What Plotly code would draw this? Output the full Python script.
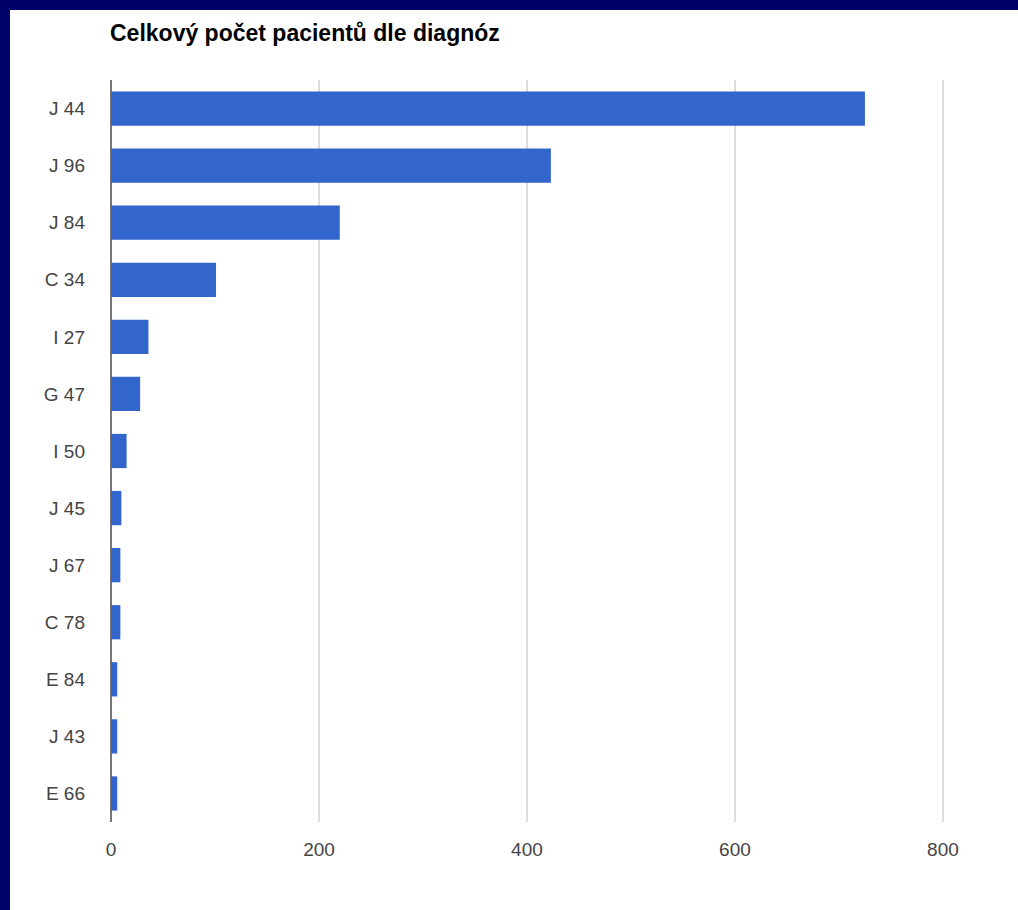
import plotly.graph_objects as go

categories = ["J 44", "J 96", "J 84", "C 34", "I 27", "G 47", "I 50", "J 45", "J 67", "C 78", "E 84", "J 43", "E 66"]
values = [725, 423, 220, 101, 36, 28, 15, 10, 9, 9, 6, 6, 6]
x_ticks = [0, 200, 400, 600, 800]
title_text = "Celkový počet pacientů dle diagnóz"

W, H = 1018, 910
L, R, T, B = 111, 73, 80, 88
pw, ph = W - L - R, H - T - B

fig = go.Figure(go.Bar(
    x=values, y=categories, orientation="h",
    marker=dict(color="#3366CC", line=dict(width=0)),
    hoverinfo="x+y",
))

def px_to_paper_x(p):
    return (p - L) / pw

def py_to_paper_y(p):
    return 1 - (p - T) / ph

navy = "#00006a"
shapes = [
    dict(type="rect", xref="paper", yref="paper",
         x0=px_to_paper_x(0), x1=px_to_paper_x(W), y0=py_to_paper_y(10), y1=py_to_paper_y(0),
         fillcolor=navy, line=dict(width=0), layer="above"),
    dict(type="rect", xref="paper", yref="paper",
         x0=px_to_paper_x(0), x1=px_to_paper_x(10), y0=py_to_paper_y(H), y1=py_to_paper_y(0),
         fillcolor=navy, line=dict(width=0), layer="above"),
]

fig.update_layout(
    width=W, height=H,
    margin=dict(l=L, r=R, t=T, b=B),
    paper_bgcolor="white", plot_bgcolor="white",
    font=dict(family="Arial, Liberation Sans, sans-serif", size=19, color="#444444"),
    title=dict(text="<b>" + title_text + "</b>", x=110 / W,
               xref="container", xanchor="left", y=1 - 33 / H, yanchor="middle",
               font=dict(size=23, color="#000000")),
    bargap=0.4,
    showlegend=False,
    shapes=shapes,
    xaxis=dict(range=[0, 802], tickvals=x_ticks, ticktext=[str(v) for v in x_ticks],
               showgrid=True, gridcolor="#dddddd", gridwidth=2, zeroline=True,
               zerolinecolor="#777777", zerolinewidth=2, showline=False,
               ticks="", ticklabelstandoff=14, fixedrange=True),
    yaxis=dict(categoryorder="array", categoryarray=categories[::-1],
               showgrid=False, zeroline=False, showline=False, ticks="",
               ticklabelstandoff=25, fixedrange=True),
)

fig.write_html("out.html")
